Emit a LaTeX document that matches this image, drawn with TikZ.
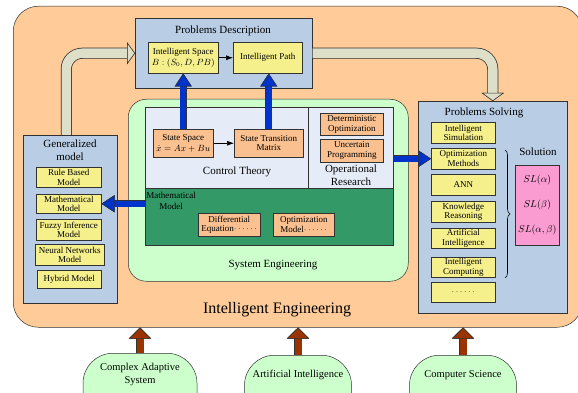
\documentclass[tikz,border=0pt]{standalone}
\usepackage{fontspec}
\setmainfont{Liberation Serif}
\usetikzlibrary{arrows.meta,decorations.pathreplacing}

\definecolor{peach}{RGB}{255,204,153}
\definecolor{slate}{RGB}{185,205,229}
\definecolor{lemon}{RGB}{245,240,140}
\definecolor{mint}{RGB}{204,255,204}
\definecolor{lavend}{RGB}{230,236,247}
\definecolor{sea}{RGB}{51,153,102}
\definecolor{apricot}{RGB}{250,192,144}
\definecolor{rose}{RGB}{250,155,210}
\definecolor{royal}{RGB}{0,51,204}
\definecolor{rust}{RGB}{153,51,0}
\definecolor{sage}{RGB}{221,223,200}
\definecolor{ink}{RGB}{50,50,50}

\tikzset{
  edge/.style={draw=ink, line width=0.5pt},
  panel/.style={edge, fill=slate, anchor=north west, inner sep=0pt},
  ybox/.style={edge, fill=lemon, anchor=north west, inner sep=0pt, align=center,
    font=\fontsize{9}{9.6}\selectfont},
  obox/.style={ybox, fill=apricot},
  label9/.style={inner sep=0pt, align=center, font=\fontsize{9}{10.5}\selectfont},
  label11/.style={inner sep=0pt, align=center, font=\fontsize{11}{13.5}\selectfont},
  bluearrow/.style={line width=6pt, royal,
    -{Triangle[width=17pt,length=13pt,line width=0.5pt,fill=royal,color=ink]},
    preaction={draw=ink, line width=7pt,
      -{Triangle[width=17pt,length=13pt,line width=0.5pt,fill=royal,color=ink]}}},
  brownarrow/.style={line width=7pt, rust,
    -{Triangle[width=22pt,length=11pt,line width=0.5pt,fill=rust,color=ink]},
    preaction={draw=ink, line width=8pt,
      -{Triangle[width=22pt,length=11pt,line width=0.5pt,fill=rust,color=ink]}}},
  grayarrow/.style={line width=9.5pt, sage, rounded corners=16pt,
    -{Triangle[width=22pt,length=8pt,line width=0.5pt,fill=sage,color=ink]},
    preaction={draw=ink, line width=11pt,
      -{Triangle[width=22pt,length=8pt,line width=0.5pt,fill=sage,color=ink]}}},
  source/.style={edge, fill=mint, rounded corners=30pt, anchor=north,
    minimum height=90pt, inner sep=0pt},
}

\begin{document}
\begin{tikzpicture}[x=1pt,y=-1pt]
\useasboundingbox (0,0) rectangle (578,393);

% outer field
\node[edge, fill=peach, rounded corners=25pt, anchor=north west, inner sep=0pt,
  minimum width=569, minimum height=321] (ie) at (13,6) {};
\node[inner sep=0pt, font=\fontsize{16}{18}\selectfont] (ietext) at (277,310) {Intelligent Engineering};

% problem description
\node[panel, minimum width=177, minimum height=70] (pd) at (135,18) {};
\node[label11] (pdtitle) at (223,31) {Problems Description};
\node[ybox, minimum width=70, minimum height=31] (is) at (148,42)
  {Intelligent Space\\[1pt]$B:(S_0,D,PB)$};
\node[ybox, minimum width=69, minimum height=31] (ip) at (233,42) {Intelligent Path};
\draw[-{Latex[length=7pt,width=5pt]}, line width=0.6pt] (is) -- (ip);

% system engineering
\node[edge, fill=mint, rounded corners=18pt, anchor=north west, inner sep=0pt,
  minimum width=280, minimum height=182] (se) at (128,99) {};
\node[label11] (setext) at (273,265) {System Engineering};
\node[edge, fill=lavend, anchor=north west, inner sep=0pt,
  minimum width=163, minimum height=81] (ct) at (145,107) {};
\node[edge, fill=lavend, anchor=north west, inner sep=0pt,
  minimum width=85, minimum height=81] (orp) at (308,107) {};
\node[edge, fill=sea, anchor=north west, inner sep=0pt,
  minimum width=248, minimum height=57] (mm) at (145,188) {};

\node[obox, minimum width=60, minimum height=28] (ss) at (153,129)
  {State Space\\[2pt]$\dot{x}=Ax+Bu$};
\node[obox, minimum width=69, minimum height=28] (stm) at (234,129)
  {State Transition\\Matrix};
\draw[-{Latex[length=7pt,width=5pt]}, line width=0.6pt] (ss) -- (stm);
\node[label11] (cttext) at (237,172) {Control Theory};

\node[obox, minimum width=63, minimum height=22] (dop) at (320,113)
  {Deterministic\\Optimization};
\node[obox, minimum width=63, minimum height=23] (upg) at (320,139)
  {Uncertain\\Programming};
\node[label11, font=\fontsize{11}{13}\selectfont] (ortext) at (351,175) {Operational\\Research};

\node[label9, font=\fontsize{9}{11}\selectfont] (mmtext) at (171,201) {Mathematical\\Model};
\node[obox, minimum width=62, minimum height=23] (deq) at (198,213)
  {Differential\\Equation$\cdots\cdots$};
\node[obox, minimum width=61, minimum height=23] (omd) at (273,213)
  {Optimization\\Model$\cdots\cdots$};

% generalized model
\node[panel, minimum width=94, minimum height=168] (gen) at (23,135) {};
\node[label11] (gentitle) at (70,150) {Generalized\\model};
\node[ybox, minimum width=65, minimum height=20] (gm1) at (36,167) {Rule Based\\Model};
\node[ybox, minimum width=65, minimum height=19] (gm2) at (36,194) {Mathematical\\Model};
\node[ybox, minimum width=65, minimum height=21] (gm3) at (36,219) {Fuzzy Inference\\Model};
\node[ybox, minimum width=69, minimum height=21] (gm4) at (35,244) {Neural Networks\\Model};
\node[ybox, minimum width=64, minimum height=18] (gm5) at (37,270) {Hybrid Model};

% problems solving
\node[panel, minimum width=149, minimum height=212] (ps) at (418,101) {};
\node[label11] (pstitle) at (484,113) {Problems Solving};
\node[ybox, minimum width=64, minimum height=21] (s1) at (431,122) {Intelligent\\Simulation};
\node[ybox, minimum width=64, minimum height=21] (s2) at (431,148) {Optimization\\Methods};
\node[ybox, minimum width=64, minimum height=21] (s3) at (431,174) {ANN};
\node[ybox, minimum width=64, minimum height=21] (s4) at (431,201) {Knowledge\\Reasoning};
\node[ybox, minimum width=64, minimum height=20] (s5) at (431,228) {Artificial\\Intelligence};
\node[ybox, minimum width=64, minimum height=20] (s6) at (431,257) {Intelligent\\Computing};
\node[ybox, minimum width=64, minimum height=20] (s7) at (431,282) {$\cdots\cdots$};
\draw[decorate, decoration={brace, amplitude=5pt}, line width=0.6pt]
  (505,150) -- (505,278);
\node[label11] (soltitle) at (538,152) {Solution};
\node[edge, fill=rose, anchor=north west, inner sep=0pt, align=center,
  minimum width=44, minimum height=80, font=\fontsize{10}{11}\selectfont] (sol) at (515,165)
  {$SL(\alpha)$\\[14pt]$SL(\beta)$\\[14pt]$SL(\alpha,\beta)$};

% flows between the parts
\draw[grayarrow] ([xshift=-4pt]gen.north) |- (pd.west);
\draw[grayarrow] (pd.east) -| (ps.north);
\draw[bluearrow] (ss.north) -- (ss.north |- is.south);
\draw[bluearrow] (stm.north) -- (stm.north |- ip.south);
\draw[bluearrow] (mm.west |- gm2.east) -- (gm2.east);
\draw[bluearrow] (orp.east |- s2.west) -- (s2.west);

% supporting disciplines
\node[source, minimum width=114] (cas) at (140,353) {};
\node[label11, font=\fontsize{10.5}{13}\selectfont] (castext) at (140,374) {Complex Adaptive\\System};
\node[source, minimum width=107] (ai) at (298,355) {};
\node[label11, font=\fontsize{10.5}{13}\selectfont] (aitext) at (298,375) {Artificial Intelligence};
\node[source, minimum width=107] (cs) at (463,355) {};
\node[label11, font=\fontsize{10.5}{13}\selectfont] (cstext) at (463,375) {Computer Science};
\draw[brownarrow] (cas.north) -- (cas.north |- ie.south);
\draw[brownarrow] (ai.north) -- (ai.north |- ie.south);
\draw[brownarrow] (cs.north) -- (cs.north |- ie.south);
\end{tikzpicture}
\end{document}
